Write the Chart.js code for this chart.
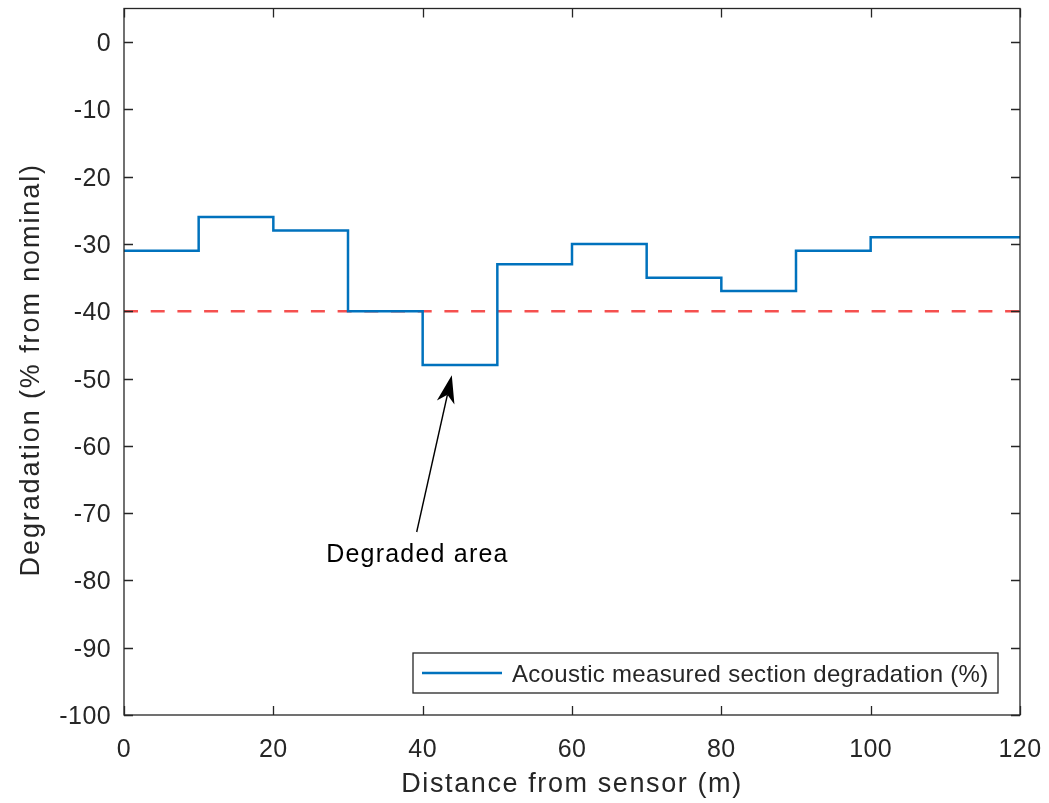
<!DOCTYPE html>
<html>
<head>
<meta charset="utf-8">
<script src="https://cdn.jsdelivr.net/npm/chart.js@4.4.1/dist/chart.umd.min.js"></script>
<style>
html,body{margin:0;padding:0;background:#fff;}
#wrap{width:1049px;height:803px;position:relative;}
</style>
</head>
<body>
<div id="wrap"><canvas id="c" width="1049" height="803"></canvas></div>
<script>
// Data
const segmentStart = [0, 10, 20, 30, 40, 50, 60, 70, 80, 90, 100, 120];
const degradation  = [-31, -26, -28, -40, -48, -33, -30, -35, -37, -31, -29, -29];
const thresholdX = [0, 120];
const thresholdY = [-40, -40];
const xTicks = [0, 20, 40, 60, 80, 100, 120];
const yTicks = [0, -10, -20, -30, -40, -50, -60, -70, -80, -90, -100];
const seriesLabel = 'Acoustic measured section degradation (%)';
const xTitle = 'Distance from sensor (m)';
const yTitle = 'Degradation (% from nominal)';
const annotationText = 'Degraded area';
const annotationTail = {x: 39.2, y: -72.8};
const annotationHead = {x: 43.9, y: -49.5};
const annotationLabelPos = {x: 39.3, y: -77.3};

const BLUE = '#0072BD';
const RED = '#F5504F';
const AXIS = '#262626';
const FONT = '"Liberation Sans", Arial, sans-serif';

const mainData = segmentStart.map((x, i) => ({x: x, y: degradation[i]}));
const threshData = thresholdX.map((x, i) => ({x: x, y: thresholdY[i]}));

function setSpacing(ctx, v) { if ('letterSpacing' in ctx) ctx.letterSpacing = v + 'px'; }

const decor = {
  id: 'decor',
  afterDatasetsDraw(chart) {
    const ctx = chart.ctx;
    const a = chart.chartArea;
    const xs = chart.scales.x, ys = chart.scales.y;
    ctx.save();
    // box
    ctx.strokeStyle = AXIS;
    ctx.lineWidth = 1.3;
    ctx.strokeRect(a.left, a.top, a.right - a.left, a.bottom - a.top);
    // inward ticks
    const tl = 9;
    ctx.beginPath();
    xTicks.forEach(v => {
      const px = Math.round(xs.getPixelForValue(v)) + 0.5;
      ctx.moveTo(px, a.bottom); ctx.lineTo(px, a.bottom - tl);
      ctx.moveTo(px, a.top); ctx.lineTo(px, a.top + tl);
    });
    yTicks.forEach(v => {
      const py = Math.round(ys.getPixelForValue(v)) + 0.5;
      ctx.moveTo(a.left, py); ctx.lineTo(a.left + tl, py);
      ctx.moveTo(a.right, py); ctx.lineTo(a.right - tl, py);
    });
    ctx.stroke();

    // tick labels
    ctx.fillStyle = AXIS;
    ctx.font = '25px ' + FONT;
    setSpacing(ctx, 0.4);
    ctx.textBaseline = 'alphabetic';
    ctx.textAlign = 'center';
    xTicks.forEach(v => ctx.fillText(String(v), xs.getPixelForValue(v), a.bottom + 42));
    ctx.textAlign = 'right';
    yTicks.forEach(v => ctx.fillText(String(v), a.left - 13, ys.getPixelForValue(v) + 9));

    // annotation arrow
    const tx = xs.getPixelForValue(annotationTail.x), ty = ys.getPixelForValue(annotationTail.y);
    const hx = xs.getPixelForValue(annotationHead.x), hy = ys.getPixelForValue(annotationHead.y);
    const ang = Math.atan2(hy - ty, hx - tx);
    const hl = 28, hw = 9, notch = 8;
    const bx = hx - hl * Math.cos(ang), by = hy - hl * Math.sin(ang);
    const nx = hx - (hl - notch) * Math.cos(ang), ny = hy - (hl - notch) * Math.sin(ang);
    ctx.strokeStyle = '#000';
    ctx.lineWidth = 1.4;
    ctx.beginPath();
    ctx.moveTo(tx, ty); ctx.lineTo(nx, ny); ctx.stroke();
    ctx.fillStyle = '#000';
    ctx.beginPath();
    ctx.moveTo(hx, hy);
    ctx.lineTo(bx + hw * Math.sin(ang), by - hw * Math.cos(ang));
    ctx.lineTo(nx, ny);
    ctx.lineTo(bx - hw * Math.sin(ang), by + hw * Math.cos(ang));
    ctx.closePath(); ctx.fill();

    ctx.font = '25px ' + FONT;
    setSpacing(ctx, 1.2);
    ctx.fillStyle = '#000';
    ctx.textAlign = 'center';
    ctx.textBaseline = 'alphabetic';
    ctx.fillText(annotationText, xs.getPixelForValue(annotationLabelPos.x), ys.getPixelForValue(annotationLabelPos.y));

    // legend
    const lx = 413, ly = 653, lw = 585, lh = 40;
    ctx.fillStyle = '#fff';
    ctx.fillRect(lx, ly, lw, lh);
    ctx.strokeStyle = AXIS; ctx.lineWidth = 1.3;
    ctx.strokeRect(lx, ly, lw, lh);
    ctx.strokeStyle = BLUE; ctx.lineWidth = 2.5;
    ctx.beginPath(); ctx.moveTo(lx + 9, ly + lh/2); ctx.lineTo(lx + 89, ly + lh/2); ctx.stroke();
    ctx.fillStyle = AXIS;
    ctx.textAlign = 'left'; ctx.textBaseline = 'alphabetic';
    ctx.font = '24px ' + FONT;
    setSpacing(ctx, 0.3);
    ctx.fillText(seriesLabel, lx + 99, ly + 29);

    // axis titles
    ctx.font = '27px ' + FONT;
    setSpacing(ctx, 1.6);
    ctx.fillStyle = AXIS;
    ctx.textAlign = 'center'; ctx.textBaseline = 'alphabetic';
    ctx.fillText(xTitle, (a.left + a.right) / 2, 792);
    ctx.save();
    ctx.translate(39, (a.top + a.bottom) / 2 + 8);
    ctx.rotate(-Math.PI / 2);
    setSpacing(ctx, 1.9);
    ctx.fillText(yTitle, 0, 0);
    ctx.restore();
    ctx.restore();
  }
};

new Chart(document.getElementById('c'), {
  type: 'line',
  data: {
    datasets: [
      {
        label: seriesLabel,
        data: mainData,
        borderColor: BLUE,
        borderWidth: 2.5,
        stepped: 'before',
        pointRadius: 0,
        fill: false,
        order: 1
      },
      {
        label: 'Threshold',
        data: threshData,
        borderColor: RED,
        borderWidth: 2.5,
        borderDash: [14, 12.7],
        pointRadius: 0,
        fill: false,
        order: 2
      }
    ]
  },
  options: {
    responsive: false,
    animation: false,
    devicePixelRatio: 1,
    layout: {padding: {left: 0, right: 29, top: 8.5, bottom: 0}},
    plugins: {legend: {display: false}, tooltip: {enabled: false}},
    scales: {
      x: {
        type: 'linear', min: 0, max: 120,
        grid: {display: false, drawTicks: false},
        border: {display: false},
        afterBuildTicks: s => { s.ticks = xTicks.map(v => ({value: v})); },
        afterFit: s => { s.height = 88; },
        ticks: {display: false}
      },
      y: {
        type: 'linear', min: -100, max: 5,
        grid: {display: false, drawTicks: false},
        border: {display: false},
        afterBuildTicks: s => { s.ticks = yTicks.map(v => ({value: v})); },
        afterFit: s => { s.width = 124; },
        ticks: {display: false}
      }
    }
  },
  plugins: [decor]
});
</script>
</body>
</html>
